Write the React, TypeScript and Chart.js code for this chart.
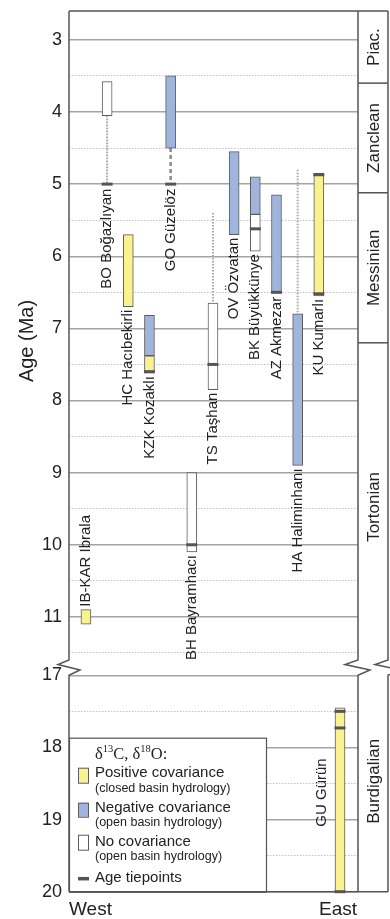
import React, { useEffect, useRef } from 'react';
import { Chart, registerables } from 'chart.js';

Chart.register(...registerables);

const FONT = "'Liberation Sans', Arial, Helvetica, sans-serif";
const SERIF = "'Liberation Serif', 'Times New Roman', serif";

// Sections (sites), west to east
const sites = ['IB-KAR Ibrala', 'BO Boğazlıyan', 'HC Hacıbekirli', 'KZK Kozaklı', 'GO Güzelöz', 'BH Bayramhacı', 'TS Taşhan', 'OV Özvatan', 'BK Büyükkünye', 'AZ Akmezar', 'HA Haliminhanı', 'KU Kumarlı', 'GU Gürün'];
const labelSide = ['above', 'below', 'below', 'below', 'below', 'below', 'below', 'below', 'below', 'below', 'below', 'below', 'left'];

// Positive covariance (closed basin hydrology): site index, age from, age to (Ma)
const positiveSite = [0, 2, 3, 11, 12];
const positiveFrom = [10.9, 5.7, 7.38, 4.85, 17.45];
const positiveTo = [11.1, 6.7, 7.62, 6.55, 20.0];

// Negative covariance (open basin hydrology)
const negativeSite = [3, 4, 7, 8, 9, 10];
const negativeFrom = [6.82, 3.5, 4.55, 4.9, 5.15, 6.8];
const negativeTo = [7.38, 4.5, 5.7, 5.42, 6.5, 8.9];

// No covariance (open basin hydrology)
const noneSite = [1, 5, 6, 8];
const noneFrom = [3.58, 9.0, 6.65, 5.42];
const noneTo = [4.05, 10.1, 7.85, 5.93];

// Age tiepoints
const tieSite = [1, 4, 3, 5, 6, 8, 9, 11, 11, 12, 12, 12];
const tieAge = [5.0, 5.0, 7.6, 10.0, 7.5, 5.62, 6.5, 4.87, 6.52, 17.5, 17.73, 20.0];

// Uncertain-age connectors
const linkSite = [1, 4, 6, 10];
const linkFrom = [4.05, 4.5, 5.4, 4.8];
const linkTo = [5.0, 5.0, 6.65, 6.8];
const linkStyle = ['dotted', 'dashed', 'dotted', 'dotted'];

// Axes
const upperTicks = [3, 3.5, 4, 4.5, 5, 5.5, 6, 6.5, 7, 7.5, 8, 8.5, 9, 9.5, 10, 10.5, 11, 11.5];
const lowerTicks = [17, 17.5, 18, 18.5, 19, 19.5, 20];
const UPPER_MIN = 2.6;
const UPPER_MAX = 11.75;
const LOWER_MIN = 16.94;
const LOWER_MAX = 20;

// Stages
const stageNames = ['Piac.', 'Zanclean', 'Messinian', 'Tortonian', 'Burdigalian'];
const stageFrom = [2.6, 3.6, 5.12, 7.2, 16.94];
const stageTo = [3.6, 5.12, 7.2, 11.75, 20];

const YELLOW = '#faf18f';
const BLUE = '#a0b5de';
const WHITE = '#ffffff';
const EDGE = '#5c5c5c';
const TIE = '#555555';

const isUpper = (a: number) => a < 15;

export default function App() {
  const ref = useRef<HTMLCanvasElement>(null);

  useEffect(() => {
    const canvas = ref.current;
    if (!canvas) return;

    const bars = (label: string, color: string, sArr: number[], fArr: number[], tArr: number[]) => {
      const out: any[] = [];
      ([['y', true], ['y2', false]] as any[]).forEach(([id, up]) => {
        const data = sArr
          .map((s, k) => ({ x: s, y: [fArr[k], tArr[k]] }))
          .filter((d) => isUpper(d.y[0]) === up);
        if (data.length)
          out.push({
            type: 'bar',
            label,
            data,
            yAxisID: id,
            backgroundColor: color,
            borderColor: EDGE,
            borderWidth: 1,
            borderSkipped: false,
            barThickness: 10,
            grouped: false,
            order: 1,
          });
      });
      return out;
    };

    const links = linkSite.map((s, k) => ({
      type: 'line',
      label: 'link',
      data: [
        { x: s, y: linkFrom[k] },
        { x: s, y: linkTo[k] },
      ],
      yAxisID: 'y',
      borderColor: linkStyle[k] === 'dashed' ? '#8a8a8a' : '#a8a8a8',
      borderWidth: linkStyle[k] === 'dashed' ? 2.5 : 2,
      borderDash: linkStyle[k] === 'dashed' ? [4, 3] : [1.6, 1.4],
      pointRadius: 0,
      fill: false,
      order: 2,
    }));

    const ties = ([['y', true], ['y2', false]] as any[]).map(([id, up]) => ({
      type: 'line',
      label: 'Age tiepoints',
      showLine: false,
      data: tieSite.map((s, k) => ({ x: s, y: tieAge[k] })).filter((d) => isUpper(d.y) === up),
      yAxisID: id,
      pointStyle: 'line',
      pointRadius: 5.5,
      pointBorderWidth: 3,
      pointBorderColor: TIE,
      borderColor: TIE,
      clip: false,
      order: 0,
    }));

    const datasets = [
      ...bars('Positive covariance', YELLOW, positiveSite, positiveFrom, positiveTo),
      ...bars('Negative covariance', BLUE, negativeSite, negativeFrom, negativeTo),
      ...bars('No covariance', WHITE, noneSite, noneFrom, noneTo),
      ...links,
      ...ties,
    ];

    const gridOpts = {
      color: (c: any) => (c.tick && Number.isInteger(c.tick.value) ? '#a4a4a4' : '#c2c2c2'),
      lineWidth: (c: any) => (c.tick && Number.isInteger(c.tick.value) ? 1.4 : 1),
      drawTicks: false,
    };
    const borderOpts = {
      display: false,
      dash: (c: any) => (c.tick && !Number.isInteger(c.tick.value) ? [1.5, 1.5] : []),
    };
    const tickOpts = {
      autoSkip: false,
      padding: 7,
      color: '#222',
      font: { size: 18, family: FONT, lineHeight: 1 },
      callback: (v: any) => (Number.isInteger(v) ? String(v) : ''),
    };

    const py = (chart: any, age: number) =>
      (isUpper(age) ? chart.scales.y : chart.scales.y2).getPixelForValue(age);

    const LEG_W = 197;
    const LEG_H = 154;

    const drawZig = (ctx: any, x: number, t: number, b: number, d1: number, d2: number) => {
      ctx.lineTo(x, t);
      ctx.lineTo(x - d1, t + 4.5);
      ctx.lineTo(x + d2, t + 10);
      ctx.lineTo(x, b);
    };

    const framePlugin = {
      id: 'frame',
      beforeDatasetsDraw(chart: any) {
        const { ctx, chartArea } = chart;
        const { left: L, right: R, top: T, bottom: B } = chartArea;
        const E = R + 30;
        const ya = chart.scales.y;
        const yb = chart.scales.y2;
        const bt = ya.bottom - 11;
        const bb = yb.getPixelForValue(17);
        ctx.save();
        // legend box
        ctx.fillStyle = '#fff';
        ctx.fillRect(L, B - LEG_H, LEG_W, LEG_H);
        ctx.strokeStyle = '#555';
        ctx.lineWidth = 1.2;
        ctx.strokeRect(L + 0.5, B - LEG_H + 0.5, LEG_W, LEG_H);
        // frame
        ctx.strokeStyle = '#555';
        ctx.lineWidth = 1.5;
        ctx.lineJoin = 'miter';
        ctx.beginPath();
        ctx.moveTo(L, T);
        ctx.lineTo(E, T);
        ctx.stroke();
        ctx.beginPath();
        ctx.moveTo(L, B);
        ctx.lineTo(E, B);
        ctx.stroke();
        [
          [L, 11, 11],
          [R, 13, 12],
          [E, 13, 12],
        ].forEach(([x, d1, d2]) => {
          ctx.beginPath();
          ctx.moveTo(x, T);
          drawZig(ctx, x, bt, bb, d1, d2);
          ctx.lineTo(x, B);
          ctx.stroke();
        });
        // stage boundaries
        stageNames.forEach((n, k) => {
          const ax = isUpper(stageFrom[k]) ? ya : yb;
          if (stageTo[k] < ax.max) {
            const yy = ax.getPixelForValue(stageTo[k]);
            ctx.beginPath();
            ctx.moveTo(R, yy);
            ctx.lineTo(E, yy);
            ctx.stroke();
          }
        });
        ctx.restore();
      },
      afterDatasetsDraw(chart: any) {
        const { ctx, chartArea } = chart;
        const { left: L, right: R, bottom: B } = chartArea;
        const E = R + 30;
        const xs = chart.scales.x;
        ctx.save();
        ctx.fillStyle = '#222';
        ctx.textBaseline = 'middle';

        // site labels
        ctx.font = `15px ${FONT}`;
        sites.forEach((name, i) => {
          const ys: number[] = [];
          const collect = (sArr: number[], fArr: number[], tArr: number[]) =>
            sArr.forEach((s, k) => {
              if (s === i) {
                ys.push(py(chart, fArr[k]));
                ys.push(py(chart, tArr[k]));
              }
            });
          collect(positiveSite, positiveFrom, positiveTo);
          collect(negativeSite, negativeFrom, negativeTo);
          collect(noneSite, noneFrom, noneTo);
          collect(linkSite, linkFrom, linkTo);
          tieSite.forEach((s, k) => {
            if (s === i) {
              ys.push(py(chart, tieAge[k]) + 1.5);
              ys.push(py(chart, tieAge[k]) - 1.5);
            }
          });
          const x = xs.getPixelForValue(i);
          const lo = Math.min(...ys);
          const hi = Math.max(...ys);
          ctx.save();
          if (labelSide[i] === 'below') {
            ctx.translate(x, hi + 3);
            ctx.rotate(-Math.PI / 2);
            ctx.textAlign = 'right';
          } else if (labelSide[i] === 'above') {
            ctx.translate(x, lo - 3);
            ctx.rotate(-Math.PI / 2);
            ctx.textAlign = 'left';
          } else {
            ctx.translate(x - 18, (lo + hi) / 2 - 8);
            ctx.rotate(-Math.PI / 2);
            ctx.textAlign = 'center';
          }
          ctx.fillText(name, 0, 0);
          ctx.restore();
        });

        // stage labels
        ctx.font = `17px ${FONT}`;
        stageNames.forEach((n, k) => {
          const ax = isUpper(stageFrom[k]) ? chart.scales.y : chart.scales.y2;
          const t = Math.max(ax.top, ax.getPixelForValue(stageFrom[k]));
          const b = Math.min(ax.bottom, ax.getPixelForValue(stageTo[k]));
          ctx.save();
          ctx.translate((R + E) / 2 + 1, (t + b) / 2);
          ctx.rotate(-Math.PI / 2);
          ctx.textAlign = 'center';
          ctx.fillText(n, 0, 0);
          ctx.restore();
        });

        // West / East
        ctx.font = `19px ${FONT}`;
        ctx.textAlign = 'left';
        ctx.fillText('West', L, B + 18.5);
        ctx.textAlign = 'right';
        ctx.fillText('East', R - 1, B + 18.5);

        // legend contents
        const top = B - LEG_H;
        const tx = L + 26;
        ctx.textAlign = 'left';
        ctx.textBaseline = 'alphabetic';
        let hx = tx;
        const base = top + 21;
        [
          ['δ', false],
          ['13', true],
          ['C, δ', false],
          ['18', true],
          ['O:', false],
        ].forEach(([s, sup]: any) => {
          ctx.font = sup ? `10.5px ${SERIF}` : `16.5px ${SERIF}`;
          ctx.fillText(s, hx, sup ? base - 6.5 : base);
          hx += ctx.measureText(s).width;
        });
        ctx.textBaseline = 'middle';
        const sw = (color: string, y: number, h: number) => {
          ctx.fillStyle = color;
          ctx.fillRect(L + 9, y, 10, h);
          ctx.strokeStyle = EDGE;
          ctx.lineWidth = 1;
          ctx.strokeRect(L + 9.5, y + 0.5, 10, h);
        };
        sw(YELLOW, top + 30, 15);
        sw(BLUE, top + 65, 14);
        sw(WHITE, top + 97, 15);
        ctx.strokeStyle = TIE;
        ctx.lineWidth = 3.5;
        ctx.beginPath();
        ctx.moveTo(L + 9, top + 141);
        ctx.lineTo(L + 20, top + 141);
        ctx.stroke();
        ctx.fillStyle = '#222';
        const rows: any[] = [
          ['Positive covariance', 35.5, 15],
          ['(closed basin hydrology)', 50.5, 12.5],
          ['Negative covariance', 70.5, 15],
          ['(open basin hydrology)', 85, 12.5],
          ['No covariance', 104, 15],
          ['(open basin hydrology)', 119, 12.5],
          ['Age tiepoints', 140.5, 15],
        ];
        rows.forEach(([s, dy, size]) => {
          ctx.font = `${size}px ${FONT}`;
          ctx.fillText(s, tx, top + dy);
        });
        ctx.restore();
      },
    };

    const fixFit = (s: any) => {
      s.width = 69;
      s.paddingTop = 0;
      s.paddingBottom = 0;
    };

    const lowerAxis = {
      type: 'linear',
      position: 'left',
      stack: 'age',
      stackWeight: LOWER_MAX - LOWER_MIN,
      min: LOWER_MIN,
      max: LOWER_MAX,
      reverse: true,
      afterFit: fixFit,
      afterBuildTicks: (s: any) => {
        s.ticks = lowerTicks.map((v) => ({ value: v }));
      },
      ticks: tickOpts,
      grid: gridOpts,
      border: borderOpts,
    };

    const upperAxis = {
      type: 'linear',
      position: 'left',
      stack: 'age',
      stackWeight: UPPER_MAX - UPPER_MIN,
      min: UPPER_MIN,
      max: UPPER_MAX,
      reverse: true,
      afterFit: fixFit,
      afterBuildTicks: (s: any) => {
        s.ticks = upperTicks.map((v) => ({ value: v }));
      },
      ticks: tickOpts,
      grid: gridOpts,
      border: borderOpts,
      title: {
        display: true,
        text: 'Age (Ma)',
        color: '#222',
        font: { size: 20, family: FONT },
        padding: { top: 15, bottom: 0 },
      },
    };

    // Left-stacked axes are placed in reverse creation order, so the lower
    // (Burdigalian) axis is declared first to end up at the bottom.
    const scales: any = {
      x: { type: 'linear', min: -0.8, max: 12.85, offset: false, display: false },
      y2: lowerAxis,
      y: upperAxis,
    };

    const chart = new Chart(canvas, {
      type: 'bar',
      data: { datasets } as any,
      options: {
        responsive: false,
        animation: false,
        events: [],
        layout: { padding: { left: 0, right: 32, top: 11, bottom: 27.3 } },
        plugins: { legend: { display: false }, tooltip: { enabled: false } },
        scales,
      } as any,
      plugins: [framePlugin],
    });

    return () => chart.destroy();
  }, []);

  return (
    <div style={{ position: 'absolute', left: 0, top: 0, width: 390, height: 919, background: '#fff' }}>
      <canvas ref={ref} width={390} height={919} style={{ display: 'block' }} />
    </div>
  );
}
